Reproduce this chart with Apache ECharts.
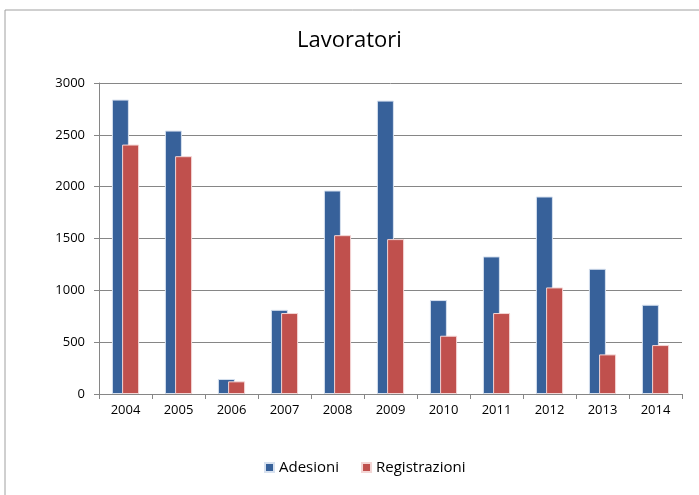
<!DOCTYPE html>
<html>
<head>
<meta charset="utf-8">
<script src="https://cdn.jsdelivr.net/npm/echarts@6/dist/echarts.min.js"></script>
<style>
    html, body { margin: 0; padding: 0; background: #fff; }
    #myChart { width: 699px; height: 495px; }
</style>
</head>
<body>
<div id="myChart"></div>
<script>
    // dati
    let anni = ['2004', '2005', '2006', '2007', '2008', '2009', '2010', '2011', '2012', '2013', '2014'];
    let adesioni = [2840, 2541, 145, 812, 1963, 2830, 906, 1327, 1905, 1208, 861];
    let registrazioni = [2406, 2294, 122, 781, 1532, 1494, 562, 781, 1028, 382, 472];
    let yTicks = [0, 500, 1000, 1500, 2000, 2500, 3000];

    let fontFam = '"Open Sans", "Noto Sans", sans-serif';
    let grigio = '#868686';

    let myChart = echarts.init(document.getElementById('myChart'));
    let option = {
        backgroundColor: '#fff',
        animation: false,
        textStyle: { fontFamily: fontFam },
        title: {
            text: 'Lavoratori',
            left: 'center',
            top: 25,
            textStyle: { fontFamily: fontFam, fontSize: 22, fontWeight: 'normal', color: '#000' }
        },
        legend: {
            bottom: 15,
            left: 259,
            itemWidth: 9,
            itemHeight: 9,
            itemGap: 22,
            icon: 'rect',
            textStyle: { fontFamily: fontFam, fontSize: 15, color: '#000' },
            data: ['Adesioni', 'Registrazioni']
        },
        graphic: [{
            type: 'rect',
            shape: { x: 5, y: 10, width: 720, height: 520 },
            style: { fill: 'none', stroke: '#a0a0a0', lineWidth: 1 },
            z: -1
        }],
        grid: {
            left: 99,
            right: 17,
            top: 83,
            bottom: 101
        },
        xAxis: {
            type: 'category',
            data: anni,
            axisLine: { lineStyle: { color: grigio } },
            axisTick: { show: true, length: 5, lineStyle: { color: grigio } },
            axisLabel: { color: '#000', fontSize: 13, margin: 10, fontFamily: fontFam }
        },
        yAxis: {
            type: 'value',
            min: yTicks[0],
            max: yTicks[yTicks.length - 1],
            interval: 500,
            axisLine: { show: true, lineStyle: { color: grigio } },
            axisTick: { show: true, length: 5, lineStyle: { color: grigio } },
            axisLabel: {
                color: '#000', fontSize: 13, margin: 14, fontFamily: fontFam,
                formatter: function (v) { return String(v); }
            },
            splitLine: { lineStyle: { color: grigio, width: 1 } }
        },
        series: [{
            name: 'Adesioni',
            type: 'bar',
            data: adesioni,
            barWidth: 17,
            barGap: '-40%',
            itemStyle: { color: '#37619a', borderColor: '#d7e1ef', borderWidth: 1 }
        }, {
            name: 'Registrazioni',
            type: 'bar',
            data: registrazioni,
            barWidth: 17,
            itemStyle: { color: '#c0504d', borderColor: '#f3d6d5', borderWidth: 1 }
        }]
    };
    myChart.setOption(option);
</script>
</body>
</html>
